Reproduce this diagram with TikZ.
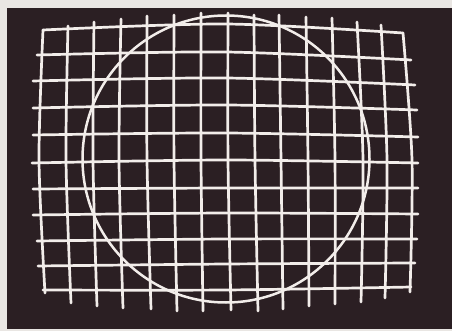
\documentclass[tikz,border=0pt]{standalone}
\usepackage{xcolor}
\definecolor{paper}{RGB}{233,230,227}
\definecolor{screen}{RGB}{43,31,35}
\definecolor{trace}{RGB}{242,237,234}
\begin{document}
\begin{tikzpicture}[x=1pt,y=-1pt,
    gridline/.style={trace,line width=2.7pt,line cap=round,line join=round},
    ring/.style={trace,line width=2.5pt}]
        % Frame and screen
        \useasboundingbox (0,0) rectangle (452,331);
        \fill[paper] (0,0) rectangle (452,331);
        \fill[screen] (7,8) rectangle (452,329);

        % Vertical lines: top x / middle x / bottom x / top y / bottom y
        \foreach \xt/\xm/\xb/\yt/\yb in {43/39/45/30/293, 68/66/71/26/303,
                94/93/97/22/306, 121/119/123/19/308, 147/147/151/16/309,
                174/174/177/15/311, 201/201/203/13/311, 228/228/231/13/310,
                254/255/258/15/311, 279/281/283/15/309, 306/308/309/17/306,
                332/335/335/18/304, 357/363/361/22/302, 381/387/385/25/298,
                403/412/410/33/292}
            \draw[gridline] plot[smooth] coordinates {(\xt,\yt) (\xm,160) (\xb,\yb)};

        % Horizontal lines: left x / left y / middle y / right x / right y
        \foreach \xl/\yl/\ym/\xr/\yr in {43/30/24/403/33, 37/55/52/411/60,
                33/81/78/415/85, 33/108/105/417/110, 33/135/133/418/137,
                32/163/160/418/163, 33/189/188/418/188, 33/215/213/418/214,
                37/241/239/417/239, 38/266/264/415/263, 43/290/290/411/287}
            \draw[gridline] plot[smooth] coordinates {(\xl,\yl) (226,\ym) (\xr,\yr)};

        % Circle
        \draw[ring] (226,159) circle[radius=143.5];
    \end{tikzpicture}
\end{document}
